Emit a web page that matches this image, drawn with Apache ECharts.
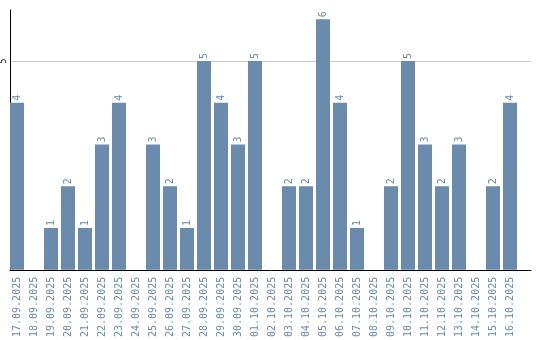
<!DOCTYPE html>
<html>
<head>
<meta charset="utf-8">
<script src="https://cdn.jsdelivr.net/npm/echarts@6/dist/echarts.min.js"></script>
<style>html,body{margin:0;padding:0;background:#fff}#c{width:540px;height:340px}</style>
</head>
<body>
<div id="c"></div>
<script>
var categories = ["17.09.2025","18.09.2025","19.09.2025","20.09.2025","21.09.2025","22.09.2025","23.09.2025","24.09.2025","25.09.2025","26.09.2025","27.09.2025","28.09.2025","29.09.2025","30.09.2025","01.10.2025","02.10.2025","03.10.2025","04.10.2025","05.10.2025","06.10.2025","07.10.2025","08.10.2025","09.10.2025","10.10.2025","11.10.2025","12.10.2025","13.10.2025","14.10.2025","15.10.2025","16.10.2025"];
var counts = [4,0,1,2,1,3,4,0,3,2,1,5,4,3,5,0,2,2,6,4,1,0,2,5,3,2,3,0,2,4];
var yTicks = [5];

var color = '#6a8bab';
var yMax = 6.22;
var chart = echarts.init(document.getElementById('c'), null, {renderer: 'canvas'});
chart.setOption({
  animation: false,
  grid: [
    {left: 10, right: 9, top: 10, bottom: 70, containLabel: false},
    {left: 8.5, width: 510, top: 10, bottom: 70, containLabel: false}
  ],
  xAxis: [
    {gridIndex: 0, type: 'category', data: [''], axisTick: {show: false}, axisLabel: {show: false},
      axisLine: {show: true, lineStyle: {color: '#000', width: 1}}},
    {gridIndex: 1, type: 'category', data: categories,
      axisLine: {show: false}, axisTick: {show: false},
      axisLabel: {rotate: 90, interval: 0, color: color, fontFamily: 'DejaVu Sans Mono', fontSize: 10, margin: 7}}
  ],
  yAxis: [
    {gridIndex: 0, type: 'value', min: 0, max: yMax, interval: 5,
      axisLine: {show: true, lineStyle: {color: '#000', width: 1}},
      axisTick: {show: false},
      splitLine: {show: true, showMaxLine: false, showMinLine: false, lineStyle: {color: '#cccccc', width: 1}},
      axisLabel: {rotate: 90, color: '#000', fontFamily: 'DejaVu Sans Mono', fontSize: 8, margin: 2,
        formatter: function(v){ return yTicks.indexOf(v) >= 0 ? String(v) : ''; }}},
    {gridIndex: 1, type: 'value', min: 0, max: yMax, show: false}
  ],
  series: [{
    type: 'bar', data: counts, barWidth: 14, xAxisIndex: 1, yAxisIndex: 1,
    itemStyle: {color: color},
    label: {show: true, position: 'top', rotate: 90, align: 'left', verticalAlign: 'middle', distance: 2,
      color: color, fontFamily: 'DejaVu Sans Mono', fontSize: 10,
      formatter: function(p){ return p.value ? String(p.value) : ''; }}
  }]
});
</script>
</body>
</html>
